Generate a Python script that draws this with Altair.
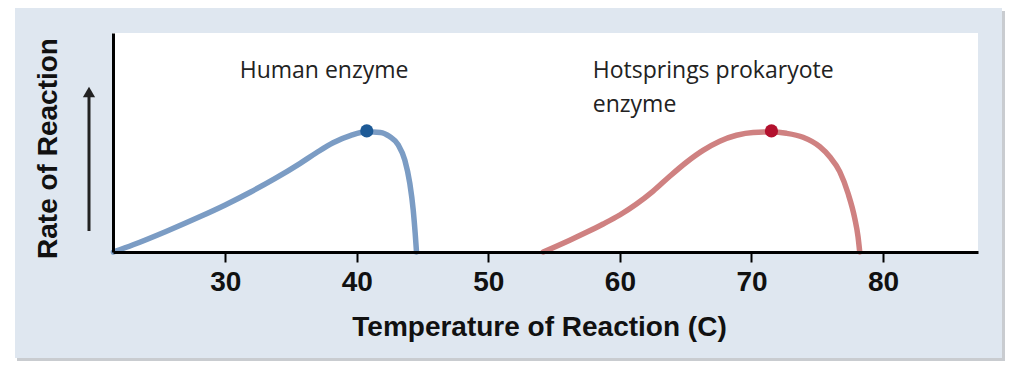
import altair as alt
import pandas as pd

# ---- data ----
human_temp = [21.5, 23.0, 25.5, 28.1, 30.0, 31.9, 33.8, 35.7, 36.9, 38.2, 39.5, 40.7,
              41.8, 42.5, 43.15, 43.65, 44.03, 44.29, 44.44, 44.54]
human_rate = [0, 3.3, 9.4, 16.2, 21.5, 27.3, 33.6, 40.5, 45.2, 49.9, 53.1, 54.9,
              54.6, 52.7, 48.9, 42.0, 31.4, 19.2, 8.5, 0]

hot_temp = [54.17, 56.19, 57.46, 58.73, 59.99, 61.26, 62.53, 63.79, 65.06, 66.32, 67.59,
            68.86, 70.12, 71.52, 72.66, 73.92, 75.19, 75.95, 76.71, 77.34, 77.85, 78.10, 78.23]
hot_rate = [0, 5.4, 9.0, 12.8, 16.9, 21.9, 27.8, 34.6, 41.0, 46.4, 50.6,
            53.3, 54.6, 54.8, 54.2, 52.4, 48.1, 43.5, 36.7, 26.8, 15.4, 7.0, 0]

peak_enzyme = ["Human", "Hotsprings"]
peak_temp = [40.76, 71.52]
peak_rate = [55.3, 55.3]

label_text = ["Human enzyme", "Hotsprings prokaryote\nenzyme"]
label_temp = [31.1, 57.94]
label_rate = [79.5, 79.5]

x_ticks = [30, 40, 50, 60, 70, 80]
x_domain = [21.47, 87.22]
y_domain = [0, 100]

BLUE_LINE = "#7b9cc4"
RED_LINE = "#cf8181"
BLUE_DOT = "#1d5a96"
RED_DOT = "#b3112e"
PANEL = "#dfe7f0"

curves = pd.DataFrame(
    {"temp": human_temp, "rate": human_rate, "enzyme": "Human"}
)
curves = pd.concat([
    curves,
    pd.DataFrame({"temp": hot_temp, "rate": hot_rate, "enzyme": "Hotsprings"}),
], ignore_index=True)
peaks = pd.DataFrame({"enzyme": peak_enzyme, "temp": peak_temp, "rate": peak_rate})
labels = pd.DataFrame({"text": label_text, "temp": label_temp, "rate": label_rate})
one = pd.DataFrame({"k": [0]})

xscale = alt.Scale(domain=x_domain, nice=False, zero=False)
yscale = alt.Scale(domain=y_domain, nice=False)

x_axis = alt.Axis(values=x_ticks, grid=False, domainColor="black", domainWidth=3,
                  tickColor="black", tickWidth=2, tickSize=10,
                  labelFont="Liberation Sans", labelFontWeight="bold", labelFontSize=28,
                  labelColor="#111111", labelPadding=6, labelFlush=False,
                  title="Temperature of Reaction (C)", titleFont="Liberation Sans",
                  titleFontWeight="bold", titleFontSize=28, titleColor="#111111",
                  titleX=426, titleY=83, titleAlign="center", titleBaseline="alphabetic",
                  zindex=1)
y_axis = alt.Axis(grid=False, ticks=False, labels=False, domainColor="black", domainWidth=3,
                  title="Rate of Reaction", titleFont="Liberation Sans", titleFontWeight="bold",
                  titleFontSize=28, titleColor="#111111", titleAngle=270,
                  titleX=-57, titleY=115, titleAlign="center", titleBaseline="alphabetic",
                  zindex=1)

shadow = alt.Chart(one).mark_rect(color="#c9ccd0").encode(
    x=alt.value(-96), x2=alt.value(892), y=alt.value(-22), y2=alt.value(328))
panel = alt.Chart(one).mark_rect(color=PANEL).encode(
    x=alt.value(-98), x2=alt.value(889), y=alt.value(-25), y2=alt.value(325))
plotbg = alt.Chart(one).mark_rect(color="white").encode(
    x=alt.value(0), x2=alt.value(865), y=alt.value(0), y2=alt.value(219))

arrow_line = alt.Chart(one).mark_rule(color="#222222", strokeWidth=3).encode(
    x=alt.value(-24), y=alt.value(62), y2=alt.value(198))
arrow_head = alt.Chart(one).mark_point(shape="triangle-up", filled=True, size=150,
                                       color="#222222", opacity=1).encode(
    x=alt.value(-24), y=alt.value(59))

lines = alt.Chart(curves).mark_line(strokeWidth=5.5, interpolate="monotone",
                                    strokeCap="round").encode(
    x=alt.X("temp:Q", scale=xscale, axis=x_axis),
    y=alt.Y("rate:Q", scale=yscale, axis=y_axis),
    color=alt.Color("enzyme:N", scale=alt.Scale(domain=["Human", "Hotsprings"],
                                                range=[BLUE_LINE, RED_LINE]), legend=None),
    detail="enzyme:N",
)
dots = alt.Chart(peaks).mark_circle(size=175, opacity=1).encode(
    x=alt.X("temp:Q", scale=xscale),
    y=alt.Y("rate:Q", scale=yscale),
    color=alt.Color("enzyme:N", scale=alt.Scale(domain=["Human", "Hotsprings"],
                                                range=[BLUE_DOT, RED_DOT]), legend=None),
)
texts = alt.Chart(labels).mark_text(align="left", baseline="alphabetic", font="Open Sans",
                                    fontSize=23, color="#222222", lineBreak="\n",
                                    lineHeight=34).encode(
    x=alt.X("temp:Q", scale=xscale),
    y=alt.Y("rate:Q", scale=yscale),
    text="text:N",
)

chart = alt.layer(shadow, panel, plotbg, arrow_line, arrow_head, lines, dots, texts).resolve_scale(
    color="independent"
).properties(
    width=865, height=219,
    autosize=alt.AutoSizeParams(type="none"),
    padding={"left": 113, "top": 33, "right": 40, "bottom": 119},
    background="white",
).configure_view(stroke=None)

chart.save("out.html", embed_options={"renderer": "svg", "actions": False})
